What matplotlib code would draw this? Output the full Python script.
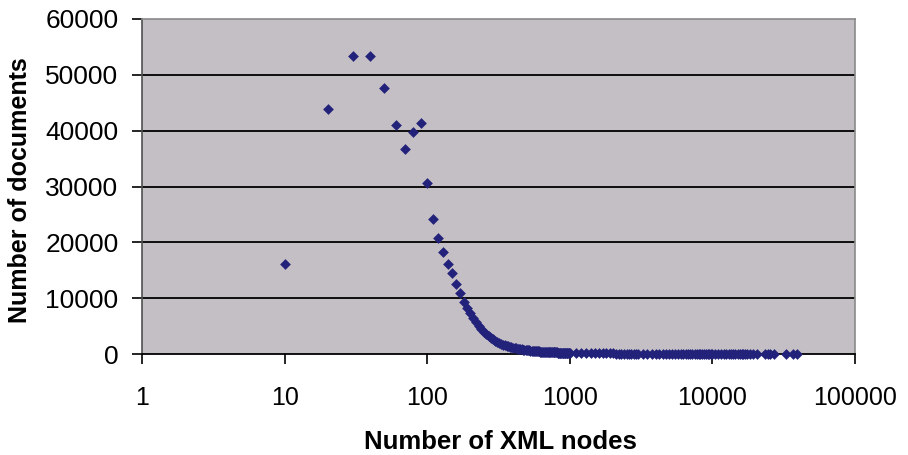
import matplotlib
matplotlib.use("Agg")
import matplotlib.pyplot as plt
import numpy as np

plt.rcParams['font.family'] = ['Liberation Sans', 'DejaVu Sans']

# node counts, binned by 10 up to 1000
bins_small = np.arange(10, 1010, 10)
docs_small = [16200, 43900, 53300, 53300, 47700, 41100, 36800, 39800, 41400, 30600,
              24200, 20800, 18300, 16100, 14500, 12500, 10900, 9400, 8200, 7300,
              6400, 5700, 5000, 4500, 4000, 3600, 3250, 2950, 2650, 2400,
              2200, 2000, 1850, 1700, 1580, 1470, 1370, 1290, 1210, 1140,
              1080, 1020, 960, 910, 870, 830, 790, 750, 720, 690,
              660, 630, 610, 590, 560, 540, 520, 500, 490, 470,
              450, 440, 420, 410, 400, 390, 380, 370, 360, 350,
              340, 330, 320, 315, 310, 300, 295, 290, 280, 275,
              270, 265, 260, 255, 250, 245, 240, 235, 232, 228,
              224, 220, 216, 212, 208, 205, 202, 198, 195, 192]

# long tail
nodes_tail = [1100, 1200, 1300, 1400, 1500, 1600, 1700, 1800, 1900, 2000,
              2100, 2200, 2300, 2400, 2500, 2600, 2700, 2800, 2900, 3000,
              3250, 3500, 3750, 4000, 4250, 4500, 4750, 5000, 5250, 5500,
              5750, 6000, 6250, 6500, 6750, 7000, 7250, 7500, 7750, 8000,
              8250, 8500, 8750, 9000, 9250, 9500, 9750, 10000,
              10500, 11000, 11500, 12000, 12500, 13000, 13500, 14000, 14500, 15000,
              15500, 16000, 16500, 17000, 17500, 18500, 19300, 20500, 23500, 24500,
              25500, 27000, 33000, 36500, 39000]
docs_tail = [180, 165, 150, 140, 130, 120, 112, 105, 98, 92,
             86, 81, 77, 73, 69, 66, 63, 60, 58, 56,
             52, 48, 45, 42, 40, 38, 36, 34, 32, 31,
             30, 29, 28, 27, 26, 25, 24, 23, 22, 21,
             20, 20, 19, 18, 18, 17, 17, 16,
             15, 14, 13, 12, 11, 10, 10, 9, 9, 8,
             8, 7, 7, 6, 6, 5, 5, 4, 4, 3,
             3, 3, 2, 2, 2]

nodes = np.concatenate([bins_small, nodes_tail])
docs = np.concatenate([docs_small, docs_tail])

yticks = [0, 10000, 20000, 30000, 40000, 50000, 60000]
xticks = [1, 10, 100, 1000, 10000, 100000]
xticklabels = ['1', '10', '100', '1000', '10000', '100000']

fig = plt.figure(figsize=(9.08, 4.55), dpi=100)
ax = fig.add_axes([142 / 908, 1 - 354 / 455, (855 - 142) / 908, (354 - 19) / 455])
ax.set_facecolor('#c4bfc5')

ax.scatter(nodes, docs, marker='D', s=30, color='#22227a', linewidths=0, zorder=3,
           clip_on=False)

ax.set_xscale('log')
ax.set_xlim(1, 100000)
ax.set_ylim(0, 60000)
ax.set_xticks(xticks)
ax.set_xticklabels(xticklabels)
ax.xaxis.set_minor_locator(matplotlib.ticker.NullLocator())
ax.set_yticks(yticks)
ax.set_yticklabels([str(v) for v in yticks])

for v in yticks[1:-1]:
    ax.axhline(v, color='black', lw=1.3, zorder=1)

for side in ['top', 'right']:
    ax.spines[side].set_color('#8a8a8a')
    ax.spines[side].set_linewidth(1.2)
ax.spines['left'].set_color('#505050')
ax.spines['left'].set_linewidth(1.2)
ax.spines['bottom'].set_color('black')
ax.spines['bottom'].set_linewidth(1.3)

ax.tick_params(axis='y', direction='out', length=7, width=1.2, pad=10, labelsize=19)
ax.tick_params(axis='x', direction='out', length=7, width=1.2, pad=16, labelsize=18)

fig.text(500 / 908, 1 - 442 / 455, 'Number of XML nodes', ha='center', va='center',
         fontsize=18.5, fontweight='bold')
fig.text(20 / 908, 1 - 190 / 455, 'Number of documents', ha='center', va='center',
         rotation=90, fontsize=18, fontweight='bold')

fig.savefig('out.png', dpi=100)
